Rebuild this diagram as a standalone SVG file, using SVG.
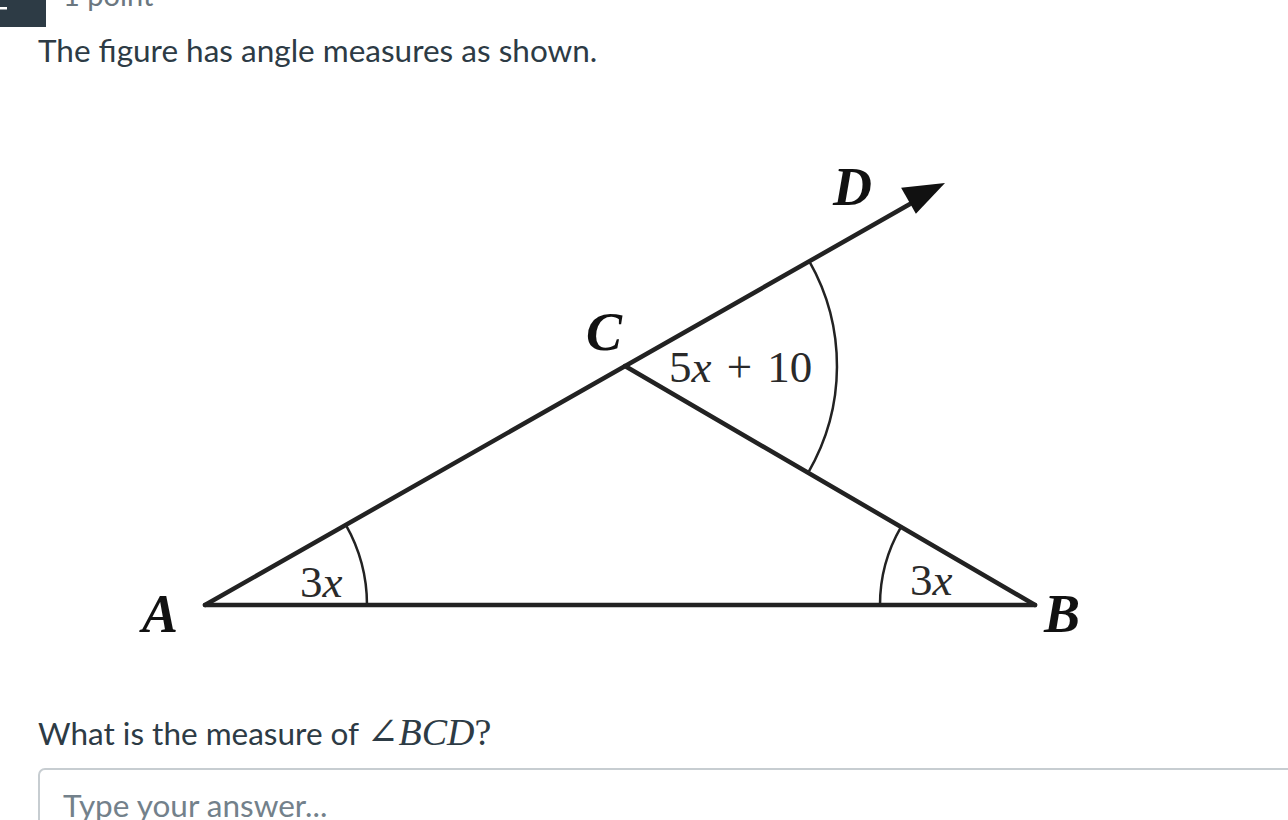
<svg xmlns="http://www.w3.org/2000/svg" width="1288" height="820" viewBox="0 0 1288 820">
<style>
.ui{font-family:Lato,"Open Sans","Liberation Sans",sans-serif;}
.ln{stroke:#222;stroke-width:4.5;fill:none;stroke-linecap:round;}
.arc{stroke:#222;stroke-width:2.5;fill:none;}
.pt{font-family:"Liberation Serif","DejaVu Serif",serif;font-weight:bold;font-style:italic;font-size:54px;fill:#111;}
.ang{font-family:"Liberation Serif","DejaVu Serif",serif;font-size:45px;fill:#2a2a2a;}
</style>
<rect x="0" y="0" width="1288" height="820" fill="#ffffff"/>
<g id="header">
<rect x="0" y="0" width="46" height="27" fill="#2d3b45"/>
<rect x="0" y="7" width="7" height="2.5" fill="#ffffff"/>
<text class="ui" x="63" y="6" font-size="29" fill="#6b7780">1 point</text>
<text class="ui" x="38" y="62" font-size="31.5" fill="#2d3b45">The figure has angle measures as shown.</text>
</g>
<g id="connectors">
<line class="ln" x1="205" y1="605" x2="910" y2="204"/>
<line class="ln" x1="625" y1="366" x2="1035" y2="605"/>
<line class="ln" x1="205" y1="605" x2="1035" y2="605"/>
<polygon points="945,183 915.9,213.8 901.1,187.8" fill="#111"/>
</g>
<g id="angle-A">
<path class="arc" d="M 367 605 A 162 162 0 0 0 345.8 524.9"/>
<text class="ang" x="300" y="597">3<tspan font-style="italic">x</tspan></text>
</g>
<g id="angle-B">
<path class="arc" d="M 880 605 A 155 155 0 0 1 901.1 526.9"/>
<text class="ang" x="910" y="595">3<tspan font-style="italic">x</tspan></text>
</g>
<g id="angle-C">
<path class="arc" d="M 809.2 261.1 A 212 212 0 0 1 808.1 472.8"/>
<text class="ang" x="669" y="382" font-size="50" word-spacing="4">5<tspan font-style="italic">x</tspan> + 10</text>
</g>
<g id="node-A"><text class="pt" x="142" y="632">A</text></g>
<g id="node-B"><text class="pt" x="1044" y="632">B</text></g>
<g id="node-C"><text class="pt" x="586" y="350">C</text></g>
<g id="node-D"><text class="pt" x="833" y="205">D</text></g>
<g id="question">
<text class="ui" x="38" y="745" font-size="31.5" fill="#2d3b45">What is the measure of <tspan font-family="'Liberation Serif','DejaVu Serif',serif" font-size="38">∠<tspan font-style="italic">BCD</tspan>?</tspan></text>
</g>
<g id="answer-box">
<rect x="39" y="769" width="1300" height="120" rx="6" fill="#ffffff" stroke="#c7cdd1" stroke-width="2"/>
<text class="ui" x="63" y="817" font-size="31.5" fill="#73818b">Type your answer...</text>
</g>
</svg>
